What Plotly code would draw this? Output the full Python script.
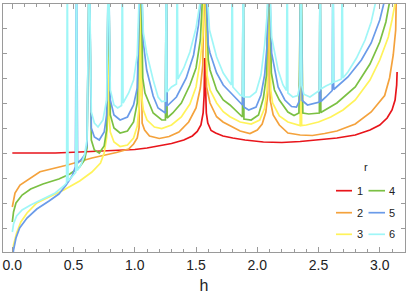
import plotly.graph_objects as go

# ---------------- data ----------------
r_values = ["1", "2", "3", "4", "5", "6"]

h_r1 = [0.0, 0.35, 0.55, 0.80, 1.00, 1.10, 1.20, 1.30, 1.40, 1.47, 1.51, 1.54, 1.558, 1.566, 1.5708, 1.576,
        1.584, 1.596, 1.623, 1.66, 1.72, 1.80, 1.90, 2.05, 2.20, 2.35, 2.50, 2.65, 2.80, 2.92, 3.00, 3.06,
        3.10, 3.125, 3.138, 3.1416]
y_r1 = [4.00, 4.00, 4.04, 4.08, 4.14, 4.20, 4.28, 4.38, 4.52, 4.68, 4.86, 5.12, 5.6, 6.3, 7.80, 6.3,
        5.6, 5.2, 4.9, 4.8, 4.68, 4.60, 4.52, 4.44, 4.42, 4.46, 4.52, 4.60, 4.72, 4.92, 5.12, 5.40,
        5.72, 6.12, 6.72, 7.24]

h_r2 = [0.0, 0.022, 0.063, 0.144, 0.226, 0.45, 0.65, 0.85, 0.95, 0.99, 1.02, 1.035, 1.047, 1.06, 1.08,
        1.12, 1.20, 1.28, 1.36, 1.44, 1.50, 1.535, 1.555, 1.5708, 1.586, 1.614, 1.668, 1.72, 1.777, 1.86,
        1.94, 2.00, 2.04, 2.07, 2.085, 2.094, 2.105, 2.13, 2.18, 2.25, 2.35, 2.45, 2.55, 2.65, 2.80,
        2.93, 3.04, 3.08, 3.11, 3.13, 3.1416]
y_r2 = [1.84, 2.4, 2.72, 3.0, 3.25, 3.52, 3.8, 4.02, 4.16, 4.36, 4.6, 5.0, 12, 5.2, 4.92,
        4.68, 4.58, 4.66, 4.84, 5.24, 5.8, 6.6, 7.52, 12, 6.64, 6.0, 5.45, 5.24, 5.08, 4.88,
        4.78, 4.92, 5.16, 5.64, 6.32, 12, 6.12, 5.52, 5.12, 4.8, 4.72, 4.7, 4.78, 4.88, 5.16,
        5.64, 6.3, 7.0, 7.92, 8.92, 12]

h_r3 = [0.0, 0.01, 0.035, 0.07, 0.12, 0.2, 0.3, 0.42, 0.55, 0.65, 0.72, 0.75, 0.77, 0.78, 0.785, 0.79,
        0.80, 0.83, 0.88, 0.94, 0.99, 1.02, 1.04, 1.047, 1.055, 1.07, 1.10, 1.16, 1.22, 1.30, 1.38, 1.45,
        1.50, 1.535, 1.555, 1.5708, 1.59, 1.614, 1.668, 1.722, 1.777, 1.86, 1.95, 2.02, 2.06, 2.08, 2.094,
        2.11, 2.125, 2.18, 2.25, 2.33, 2.35, 2.356, 2.362, 2.40, 2.50, 2.60, 2.70, 2.80, 2.92, 3.00,
        3.07, 3.10, 3.13, 3.1416]
y_r3 = [-0.36, 0.32, 0.8, 1.24, 1.6, 2.0, 2.24, 2.52, 2.88, 3.24, 3.6, 4.0, 4.6, 5.52, 12, 5.52,
        4.84, 4.44, 4.26, 4.32, 4.6, 5.08, 6.12, 12, 6.32, 5.72, 5.32, 5.04, 4.98, 5.12, 5.44, 5.96,
        6.64, 7.72, 8.72, 12, 7.12, 6.52, 6.0, 5.65, 5.45, 5.24, 5.16, 5.32, 5.8, 6.52, 12,
        6.52, 6.0, 5.48, 5.24, 5.12, 5.1, 12, 5.1, 5.12, 5.24, 5.44, 5.72, 6.12, 6.92, 7.72,
        8.64, 9.32, 10.12, 12]

h_r4 = [0.0, 0.01, 0.03, 0.08, 0.15, 0.25, 0.38, 0.47, 0.55, 0.59, 0.61, 0.628, 0.645, 0.67, 0.71, 0.75,
        0.77, 0.785, 0.80, 0.83, 0.88, 0.94, 0.99, 1.02, 1.047, 1.065, 1.083, 1.10, 1.15, 1.22, 1.25,
        1.257, 1.264, 1.31, 1.38, 1.45, 1.50, 1.535, 1.5708, 1.60, 1.614, 1.668, 1.722, 1.777, 1.86,
        1.879, 1.885, 1.891, 1.95, 2.01, 2.05, 2.075, 2.094, 2.115, 2.14, 2.18, 2.25, 2.30, 2.34, 2.356,
        2.372, 2.42, 2.507, 2.513, 2.519, 2.65, 2.80, 2.92, 3.00, 3.05, 3.08, 3.1416]
y_r4 = [1.24, 1.64, 2.0, 2.32, 2.56, 2.76, 2.96, 3.16, 3.44, 3.72, 4.2, 12, 4.52, 4.12, 4.0, 4.28,
        4.92, 12, 5.52, 5.0, 4.8, 4.88, 5.24, 6.0, 12, 7.0, 6.4, 6.2, 5.6, 5.32, 5.32,
        12, 5.4, 5.6, 6.0, 6.72, 7.4, 8.52, 12, 7.72, 7.32, 6.52, 6.12, 5.92, 5.52,
        5.44, 12, 5.36, 5.32, 5.52, 6.2, 7.12, 12, 7.2, 6.52, 6.12, 5.64, 5.5, 5.6, 12,
        5.6, 5.56, 5.6, 12, 5.62, 6.0, 6.64, 7.56, 8.44, 9.24, 10.04, 12]

h_r5 = [0.0, 0.01, 0.03, 0.06, 0.12, 0.2, 0.3, 0.38, 0.44, 0.49, 0.515, 0.524, 0.533, 0.56, 0.59, 0.61,
        0.628, 0.645, 0.67, 0.71, 0.75, 0.77, 0.785, 0.80, 0.83, 0.88, 0.94, 0.99, 1.02, 1.047, 1.07,
        1.097, 1.15, 1.19, 1.25, 1.257, 1.264, 1.34, 1.42, 1.48, 1.52, 1.5708, 1.60, 1.614, 1.668, 1.722,
        1.777, 1.84, 1.879, 1.885, 1.891, 1.93, 1.99, 2.03, 2.06, 2.08, 2.094, 2.117, 2.17, 2.225, 2.28,
        2.32, 2.345, 2.356, 2.367, 2.41, 2.507, 2.513, 2.519, 2.56, 2.612, 2.618, 2.624, 2.74, 2.85,
        2.93, 3.00, 3.04, 3.1416]
y_r5 = [-0.36, 0.12, 0.6, 1.0, 1.4, 1.76, 2.08, 2.36, 2.72, 3.1, 3.45, 12, 3.6, 3.72, 3.92, 4.32,
        12, 5.0, 4.64, 4.52, 4.84, 5.52, 12, 6.12, 5.52, 5.32, 5.44, 5.92, 6.6, 12, 8.4,
        7.32, 6.28, 5.8, 5.6, 12, 5.88, 6.24, 7.0, 7.92, 9.12, 12, 8.32, 8.0, 7.2, 6.72,
        6.44, 6.12, 5.92, 12, 5.84, 5.72, 5.84, 6.32, 7.12, 8.32, 12, 8.0, 6.64, 6.12, 5.86,
        5.84, 6.1, 12, 6.1, 5.92, 6.04, 12, 6.06, 6.24, 6.5, 12, 6.54, 7.04, 7.72,
        8.4, 9.32, 10.12, 12]

h_r6 = [0.0, 0.01, 0.035, 0.08, 0.15, 0.25, 0.35, 0.42, 0.443, 0.449, 0.455, 0.50, 0.518, 0.524, 0.53,
        0.56, 0.59, 0.61, 0.628, 0.645, 0.67, 0.70, 0.74, 0.77, 0.785, 0.80, 0.83, 0.86, 0.892, 0.898,
        0.904, 0.95, 0.99, 1.02, 1.047, 1.07, 1.097, 1.15, 1.19, 1.22, 1.251, 1.257, 1.263, 1.30, 1.34,
        1.346, 1.352, 1.40, 1.45, 1.50, 1.53, 1.5708, 1.61, 1.668, 1.722, 1.777, 1.789, 1.795, 1.801,
        1.86, 1.879, 1.885, 1.891, 1.94, 1.99, 2.03, 2.06, 2.08, 2.094, 2.117, 2.17, 2.21, 2.238, 2.244,
        2.25, 2.29, 2.33, 2.348, 2.356, 2.364, 2.38, 2.43, 2.507, 2.513, 2.519, 2.56, 2.612, 2.618,
        2.624, 2.65, 2.687, 2.693, 2.699, 2.74, 2.81, 2.88, 2.93, 2.97, 3.1416]
y_r6 = [0.84, 1.16, 1.48, 1.72, 1.92, 2.16, 2.4, 2.68, 2.8, 12, 2.88, 3.12, 3.22, 12, 3.3,
        3.52, 3.92, 4.52, 12, 5.64, 5.2, 5.04, 5.32, 6.12, 12, 6.52, 5.92, 5.8, 5.9, 12,
        6.0, 6.4, 6.92, 7.92, 12, 8.8, 8.0, 6.92, 6.24, 6.06, 6.08, 12, 6.44, 6.64, 6.76,
        12, 6.96, 7.4, 8.04, 9.0, 9.92, 12, 8.92, 7.84, 7.2, 6.8, 6.72, 12, 6.64,
        6.32, 6.28, 12, 6.24, 6.24, 6.44, 7.12, 8.32, 9.52, 12, 8.64, 7.32, 6.72, 6.5, 12,
        6.4, 6.24, 6.3, 6.7, 12, 6.7, 6.35, 6.24, 6.5, 12, 6.56, 6.68, 6.8, 12,
        6.84, 6.88, 6.96, 12, 7.0, 7.24, 7.8, 8.52, 9.24, 10.12, 12]

x_tick_step = 0.5
x_minor_step = 0.1
y_tick_step = 1

# ---------------- style / layout ----------------
colors = ["#E8151B", "#F4A23C", "#FFF35A", "#7BC043", "#6A9BE9", "#9FF6F7"]
FONT = "Liberation Sans, Arial, sans-serif"
AXIS_COLOR = "#9a9a9a"
W, H = 410, 300
ML, MR, MT, MB = 3, 5, 4, 48
X_RANGE = [-0.076, 3.206]
Y_RANGE = [0.04, 9.96]

series = [(h_r1, y_r1), (h_r2, y_r2), (h_r3, y_r3), (h_r4, y_r4), (h_r5, y_r5), (h_r6, y_r6)]

fig = go.Figure()
for (hs, ys), c, lab in zip(series, colors, r_values):
    fig.add_trace(go.Scatter(x=hs, y=ys, mode="lines", name=lab, showlegend=False,
                             hoverinfo="skip", line=dict(color=c, width=1.7)))

fig.update_layout(
    width=W, height=H,
    margin=dict(l=ML, r=MR, t=MT, b=MB),
    plot_bgcolor="white", paper_bgcolor="white",
    font=dict(family=FONT, color="#222"),
    hovermode=False,
)
fig.update_xaxes(
    range=X_RANGE, showgrid=False, zeroline=False,
    showline=True, linecolor=AXIS_COLOR, linewidth=1, mirror="allticks",
    ticks="inside", ticklen=5, tickcolor=AXIS_COLOR, tickwidth=1,
    tickmode="linear", tick0=0, dtick=x_tick_step, tickformat=".1f",
    tickfont=dict(size=14, family=FONT, color="#222"),
    minor=dict(ticks="inside", ticklen=3, tickcolor=AXIS_COLOR, dtick=x_minor_step, tick0=0, showgrid=False),
    title=dict(text="h", font=dict(size=16, family=FONT, color="#222"), standoff=8),
)
fig.update_yaxes(
    range=Y_RANGE, showgrid=False, zeroline=False,
    showline=True, linecolor=AXIS_COLOR, linewidth=1, mirror="allticks",
    ticks="inside", ticklen=4, tickcolor=AXIS_COLOR, tickwidth=1,
    tickmode="linear", tick0=0, dtick=y_tick_step, showticklabels=False,
)

# ---------------- legend (two columns: 1-3, 4-6) ----------------
PW, PH = W - ML - MR, H - MT - MB
def px_x(p):
    return (p - ML) / PW
def px_y(p):
    return (H - MB - p) / PH

row_py = [190.7, 212.7, 234.3]
col_line = [(336, 352), (368.5, 385)]
col_text = [359.5, 392]
for i, (lab, c) in enumerate(zip(r_values, colors)):
    col, row = divmod(i, 3)
    x0, x1 = col_line[col]
    yy = px_y(row_py[row])
    fig.add_shape(type="line", xref="paper", yref="paper", x0=px_x(x0), x1=px_x(x1), y0=yy, y1=yy,
                  line=dict(color=c, width=1.7))
    fig.add_annotation(xref="paper", yref="paper", x=px_x(col_text[col]), y=yy, text=lab,
                       showarrow=False, xanchor="center", yanchor="middle",
                       font=dict(size=11, family=FONT, color="#222"))
fig.add_annotation(xref="paper", yref="paper", x=px_x(365.7), y=px_y(167), text="r",
                   showarrow=False, xanchor="center", yanchor="middle",
                   font=dict(size=11, family=FONT, color="#222"))

fig.write_html("out.html", config={"displayModeBar": False, "staticPlot": True},
               post_script="document.body.style.margin='0';document.body.style.padding='0';")
